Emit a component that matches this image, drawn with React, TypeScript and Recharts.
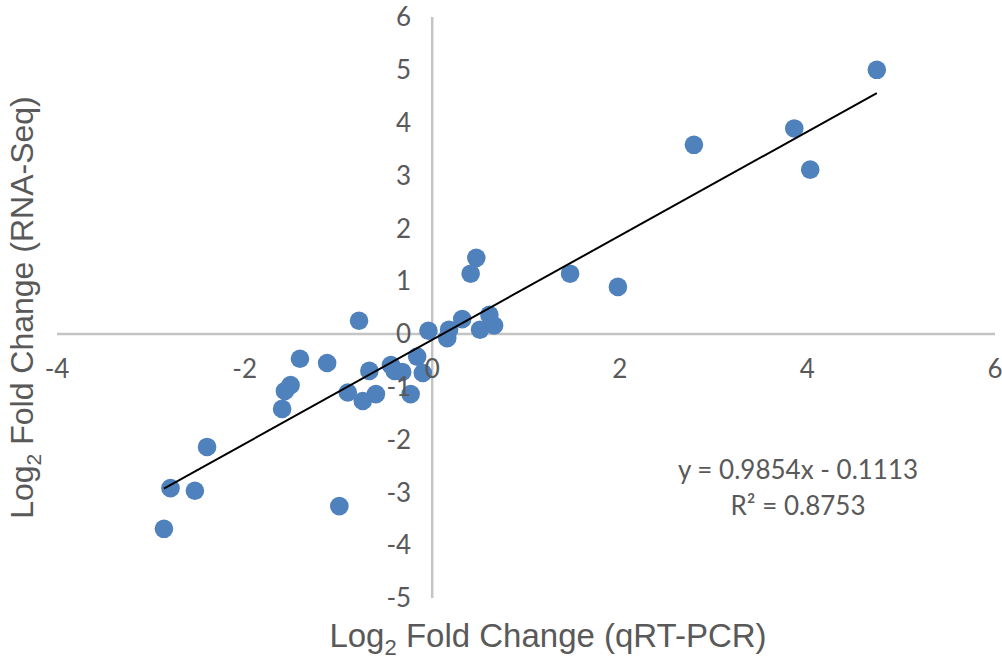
import React from "react";
import {ScatterChart, Scatter, XAxis, YAxis, ReferenceLine, ReferenceDot} from "recharts";

// log2 fold change, qRT-PCR (x) vs RNA-Seq (y)
const qpcr = [
    4.74, 3.86, 4.03, 2.79, 1.47, 1.98, 0.47, 0.41, 0.32, 0.61, 0.51, 0.66,
    -0.04, 0.18, 0.16, -0.78, -1.41, -1.12, -1.51, -1.57, -1.60, -0.90, -0.74, -0.60,
    -0.67, -0.44, -0.40, -0.32, -0.16, -0.10, -0.23, -2.40, -2.79, -2.53, -2.86, -0.99,
];
const rnaSeq = [
    5.00, 3.89, 3.11, 3.58, 1.14, 0.89, 1.44, 1.14, 0.28, 0.36, 0.08, 0.16,
    0.06, 0.08, -0.08, 0.25, -0.47, -0.55, -0.97, -1.08, -1.42, -1.11, -1.27, -1.14,
    -0.70, -0.59, -0.70, -0.72, -0.43, -0.74, -1.14, -2.14, -2.92, -2.97, -3.69, -3.26,
];

const xTicks = [-4, -2, 0, 2, 4, 6];
const yTicks = [6, 5, 4, 3, 2, 1, 0, -1, -2, -3, -4, -5];

// trendline as reported on the chart
const slope = 0.9854;
const intercept = -0.1113;
const equationText = "y = 0.9854x - 0.1113";
const r2Text = "R² = 0.8753";

const data = qpcr.map((x, i) => ({x, y: rnaSeq[i]}));
const xMin = Math.min(...qpcr);
const xMax = Math.max(...qpcr);
const trend = [
    {x: xMin, y: slope * xMin + intercept},
    {x: xMax, y: slope * xMax + intercept},
];

const GRAY = "#595959";
const TICK_FONT = "Lato, 'Open Sans', sans-serif";
const TITLE_FONT = "'Liberation Sans', Arial, sans-serif";

const Dot = (props: any) => <circle cx={props.cx} cy={props.cy} r={9.3} fill="#4F81BD"/>;

const XTitle = (props: any) => {
    const vb = props.viewBox;
    return (
        <text x={vb.x + vb.width / 2 + 22} y={vb.y + 49} textAnchor="middle"
              fill={GRAY} fontSize={33} fontFamily={TITLE_FONT}>
            <tspan>Log</tspan>
            <tspan fontSize={22} dy={8}>2</tspan>
            <tspan dy={-8}> Fold Change (qRT-PCR)</tspan>
        </text>
    );
};

const YTitle = (props: any) => {
    const vb = props.viewBox;
    const cx = 33;
    const cy = vb.y + vb.height / 2;
    return (
        <text x={cx} y={cy} textAnchor="middle" transform={`rotate(-90 ${cx} ${cy})`}
              fill={GRAY} fontSize={32} fontFamily={TITLE_FONT}>
            <tspan>Log</tspan>
            <tspan fontSize={21} dy={8}>2</tspan>
            <tspan dy={-8}> Fold Change (RNA-Seq)</tspan>
        </text>
    );
};

const Equation = (props: any) => {
    const vb = props.viewBox;
    return (
        <g fill={GRAY} fontSize={26} fontFamily={TICK_FONT}>
            <text x={vb.x} y={vb.y - 8} textAnchor="middle">{equationText}</text>
            <text x={vb.x} y={vb.y + 28} textAnchor="middle">{r2Text}</text>
        </g>
    );
};

const App: React.FC = () => {
    return (
        <div style={{position: "absolute", left: 0, top: 0, background: "#fff"}}>
            <ScatterChart width={1002} height={662} margin={{top: 17, right: 7, bottom: 0, left: 0}}>
                <XAxis type="number" dataKey="x" domain={[-4, 6]} ticks={xTicks} tick={false}
                       axisLine={false} tickLine={false} height={64} label={{content: XTitle}}/>
                <YAxis type="number" dataKey="y" domain={[-5, 6]} ticks={yTicks} tick={false}
                       axisLine={false} tickLine={false} width={57} label={{content: YTitle}}/>
                <ReferenceLine x={0} stroke="#c4c4c4" strokeWidth={2.5}/>
                <ReferenceLine y={0} stroke="#c4c4c4" strokeWidth={2.5}/>
                {xTicks.map((t) => (
                    <ReferenceDot key={"x" + t} x={t} y={0} r={0} ifOverflow="visible"
                                  label={{value: String(t), position: "bottom", offset: 26, fill: GRAY,
                                      fontSize: 26, fontFamily: TICK_FONT}}/>
                ))}
                {yTicks.map((t) => (
                    <ReferenceDot key={"y" + t} x={0} y={t} r={0} ifOverflow="visible"
                                  label={{value: String(t), position: "left", offset: 21, fill: GRAY,
                                      fontSize: 26, fontFamily: TICK_FONT}}/>
                ))}
                <Scatter data={data} shape={Dot} isAnimationActive={false}/>
                <Scatter data={trend} line={{stroke: "#000", strokeWidth: 2}} shape={() => <g/>}
                         isAnimationActive={false}/>
                <ReferenceDot x={3.9} y={-2.9} r={0} ifOverflow="visible" label={{content: Equation}}/>
            </ScatterChart>
        </div>
    );
};

export default App;
